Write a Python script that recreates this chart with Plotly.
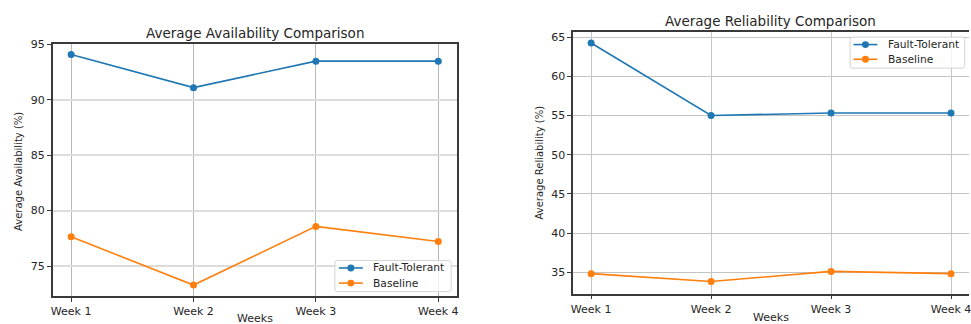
import plotly.graph_objects as go

weeks = ["Week 1", "Week 2", "Week 3", "Week 4"]
avail_ft = [94.07, 91.09, 93.48, 93.48]
avail_base = [77.64, 73.29, 78.58, 77.22]
rel_ft = [64.25, 55.0, 55.33, 55.33]
rel_base = [34.83, 33.83, 35.12, 34.83]
series_names = ["Fault-Tolerant", "Baseline"]

BLUE = "#1f77b4"
ORANGE = "#ff7f0e"
COLORS = [BLUE, ORANGE]
FONT = "DejaVu Sans"
TXT = "#262626"
W, H = 971, 324

fig = go.Figure()

def add(x, y, name, color, xa, ya):
    fig.add_trace(go.Scatter(
        x=x, y=y, name=name, mode="lines+markers",
        line=dict(color=color, width=1.6),
        marker=dict(color=color, size=7),
        xaxis=xa, yaxis=ya, showlegend=False))

add(weeks, avail_ft, series_names[0], BLUE, "x", "y")
add(weeks, avail_base, series_names[1], ORANGE, "x", "y")
add(weeks, rel_ft, series_names[0], BLUE, "x2", "y2")
add(weeks, rel_base, series_names[1], ORANGE, "x2", "y2")

def px_x(p):
    return p / W

def px_y(p):
    return (H - p) / H

axis_common = dict(
    showline=True, linecolor="#3a3a3a", linewidth=1.5,
    ticks="outside", ticklen=4, tickcolor="#3a3a3a", tickwidth=1,
    showgrid=True, gridcolor="#c4c4c4", gridwidth=1,
    zeroline=False,
    tickfont=dict(family=FONT, size=11, color=TXT),
)

fig.update_layout(
    width=W, height=H,
    margin=dict(l=0, r=0, t=0, b=0),
    paper_bgcolor="white", plot_bgcolor="white",
    font=dict(family=FONT, color=TXT),
    showlegend=False,
    xaxis=dict(axis_common, type="category", domain=[px_x(51), px_x(456.5)],
               range=[-0.15, 3.15], mirror=True, anchor="y", gridcolor="#b8b8b8"),
    yaxis=dict(axis_common, domain=[px_y(295.5), px_y(39)], range=[72.3, 95.0],
               tickvals=[75, 80, 85, 90, 95], mirror=True, anchor="x",
               gridcolor="#dcdcdc", gridwidth=1.5),
    xaxis2=dict(axis_common, type="category", domain=[px_x(573.5), 1.0],
                range=[-0.15, 3.15], mirror=True, anchor="y2"),
    yaxis2=dict(axis_common, domain=[px_y(293), px_y(26.3)], range=[32.29, 65.68],
                tickvals=[35, 40, 45, 50, 55, 60, 65], mirror=False, anchor="x2"),
)

# legend boxes drawn in page pixels: (box x0, y0, x1, y1, line x0, line x1, text x, row ys)
legends = [
    (334.3, 259.3, 451.0, 291.0, 338.3, 362.3, 371.0, [266.9, 282.3]),
    (851.7, 31.7, 966.7, 63.3, 855.0, 879.0, 887.7, [39.3, 54.3]),
]

def rounded_rect(x0, y0, x1, y1, r=2.5):
    X = lambda p: px_x(p)
    Y = lambda p: px_y(p)
    return (f"M {X(x0 + r)} {Y(y0)} L {X(x1 - r)} {Y(y0)} Q {X(x1)} {Y(y0)} {X(x1)} {Y(y0 + r)} "
            f"L {X(x1)} {Y(y1 - r)} Q {X(x1)} {Y(y1)} {X(x1 - r)} {Y(y1)} "
            f"L {X(x0 + r)} {Y(y1)} Q {X(x0)} {Y(y1)} {X(x0)} {Y(y1 - r)} "
            f"L {X(x0)} {Y(y0 + r)} Q {X(x0)} {Y(y0)} {X(x0 + r)} {Y(y0)} Z")

for bx0, by0, bx1, by1, lx0, lx1, tx, rows in legends:
    fig.add_shape(type="path", xref="paper", yref="paper", layer="above",
                  path=rounded_rect(bx0, by0, bx1, by1),
                  fillcolor="rgba(255,255,255,0.8)", line=dict(color="#d4d4d4", width=1))
    for name, color, ry in zip(series_names, COLORS, rows):
        fig.add_shape(type="line", xref="paper", yref="paper", layer="above",
                      x0=px_x(lx0), x1=px_x(lx1), y0=px_y(ry), y1=px_y(ry),
                      line=dict(color=color, width=1.6))
        cx = (lx0 + lx1) / 2
        fig.add_shape(type="circle", xref="paper", yref="paper", layer="above",
                      x0=px_x(cx - 3.5), x1=px_x(cx + 3.5), y0=px_y(ry + 3.5), y1=px_y(ry - 3.5),
                      fillcolor=color, line=dict(color=color, width=0))
        fig.add_annotation(text=name, x=px_x(tx), y=px_y(ry), xref="paper", yref="paper",
                           showarrow=False, xanchor="left", yanchor="middle",
                           font=dict(family=FONT, size=10.7, color=TXT))

annots = [
    dict(text="Average Availability Comparison", x=px_x(253.7), y=px_y(28), size=13.5),
    dict(text="Average Reliability Comparison", x=px_x(772), y=px_y(15), size=13.5),
    dict(text="Weeks", x=px_x(253.7), y=px_y(318.3), size=11),
    dict(text="Weeks", x=px_x(772), y=px_y(317.3), size=11),
]
for a in annots:
    fig.add_annotation(text=a["text"], x=a["x"], y=a["y"], xref="paper", yref="paper",
                       showarrow=False, xanchor="center", yanchor="middle",
                       font=dict(family=FONT, size=a["size"], color=TXT))
fig.add_annotation(text="Average Availability (%)", x=px_x(16.7), y=px_y(168.5),
                   xref="paper", yref="paper", showarrow=False, textangle=-90,
                   xanchor="center", yanchor="middle",
                   font=dict(family=FONT, size=10, color=TXT))
fig.add_annotation(text="Average Reliability (%)", x=px_x(540), y=px_y(159.7),
                   xref="paper", yref="paper", showarrow=False, textangle=-90,
                   xanchor="center", yanchor="middle",
                   font=dict(family=FONT, size=10, color=TXT))

fig.write_html(
    "out.html",
    config={"displayModeBar": False},
    post_script="document.body.style.margin='0';document.documentElement.style.overflow='hidden';document.body.style.overflow='hidden';",
)
